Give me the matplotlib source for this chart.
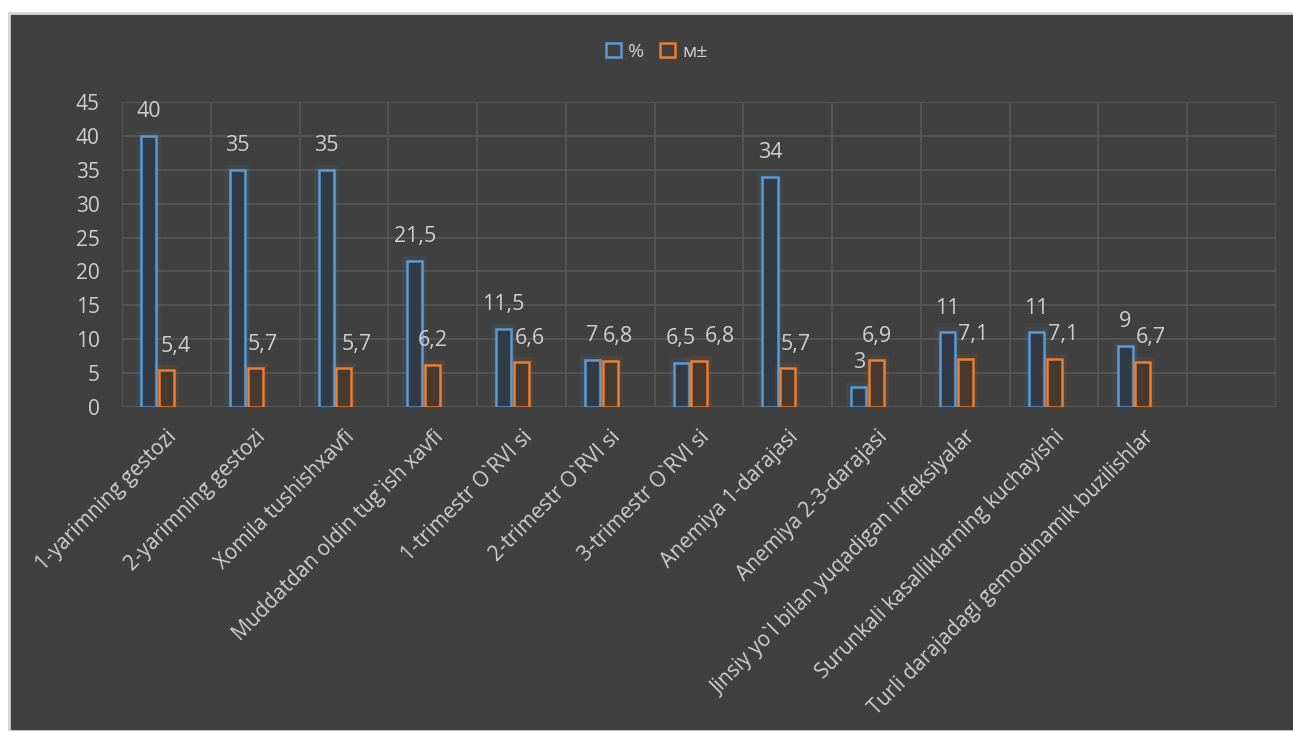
import matplotlib.pyplot as plt
import matplotlib.patheffects as pe
from matplotlib.patches import Patch, Rectangle
import numpy as np

# chart data
categories = [
    "1-yarimning gestozi",
    "2-yarimning gestozi",
    "Xomila tushishxavfi",
    "Muddatdan oldin tug`ish xavfi",
    "1-trimestr O`RVI si",
    "2-trimestr O`RVI si",
    "3-trimestr O`RVI si",
    "Anemiya 1-darajasi",
    "Anemiya 2-3-darajasi",
    "Jinsiy yo`l bilan yuqadigan infeksiyalar",
    "Surunkali kasalliklarning kuchayishi",
    "Turli darajadagi gemodinamik buzilishlar",
    "",
]
percent = [40, 35, 35, 21.5, 11.5, 7, 6.5, 34, 3, 11, 11, 9]
m_pm = [5.4, 5.7, 5.7, 6.2, 6.6, 6.8, 6.8, 5.7, 6.9, 7.1, 7.1, 6.7]
series_names = ["%", "м±"]

# sideways nudge of the м± value labels, in category units
m_label_shift = [0.1, 0.09, 0.15, 0.0, 0.09, 0.09, 0.24, 0.09, 0.0, 0.09, 0.1, 0.09]

BG = "#404040"
GRID = "#575757"
TEXT = "#cfcfcf"
BLUE = "#5B9BD5"
ORANGE = "#ED7D31"

plt.rcParams["font.family"] = ["Open Sans", "DejaVu Sans"]

fig = plt.figure(figsize=(12.93, 7.31), dpi=100)
fig.patch.set_facecolor("white")
# dark chart panel with a light frame on the top and left
fig.patches.append(Rectangle((9 / 1293, 0), 1, 1 - 13 / 731, transform=fig.transFigure,
                             facecolor=BG, edgecolor="#d4d4d4", linewidth=2, zorder=-5))

ax = fig.add_axes([122 / 1293, 1 - 407 / 731, (1276 - 122) / 1293, (407 - 102) / 731])
ax.set_facecolor(BG)

def fmt(v):
    return ("%g" % v).replace(".", ",")

pos = np.arange(len(percent))
w = 0.17
glow_b = [pe.Stroke(linewidth=7, foreground=BLUE, alpha=0.08), pe.Normal()]
glow_o = [pe.Stroke(linewidth=7, foreground=ORANGE, alpha=0.08), pe.Normal()]
bars_b = ax.bar(pos - 0.2, percent, width=w, facecolor="#323a45", edgecolor=BLUE,
                linewidth=1.8, zorder=3)
bars_o = ax.bar(pos, m_pm, width=w, facecolor="#46392f", edgecolor=ORANGE,
                linewidth=1.8, zorder=3)
for b in bars_b:
    b.set_path_effects(glow_b)
for b in bars_o:
    b.set_path_effects(glow_o)

# value labels above each bar
for xi, v in zip(pos, percent):
    ax.text(xi - 0.2, v + 3.6, fmt(v), ha="center", va="center", color=TEXT, fontsize=15.5)
for xi, v, dx in zip(pos, m_pm, m_label_shift):
    ax.text(xi + dx, v + 3.55, fmt(v), ha="center", va="center", color=TEXT, fontsize=15.5)

ax.set_xlim(-0.5, len(categories) - 0.5)
ax.set_ylim(0, 45)
ax.set_yticks(range(0, 46, 5))
ax.set_xticks(np.arange(len(categories)))
ax.set_xticks(np.arange(len(categories) + 1) - 0.5, minor=True)
ax.set_xticklabels(categories, rotation=45, ha="right", rotation_mode="anchor",
                   color=TEXT, fontsize=15)
ax.tick_params(axis="x", which="both", length=0, pad=14)
ax.tick_params(axis="y", length=0, pad=16, labelcolor=TEXT, labelsize=15)
ax.grid(axis="y", color=GRID, linewidth=1.2, zorder=0)
ax.grid(axis="x", which="minor", color=GRID, linewidth=1.2, zorder=0)
ax.set_axisbelow(True)
for s in ax.spines.values():
    s.set_visible(False)

handles = [Patch(facecolor=BG, edgecolor=BLUE, linewidth=1.8),
           Patch(facecolor=BG, edgecolor=ORANGE, linewidth=1.8)]
fig.legend(handles, series_names, loc="center", bbox_to_anchor=(657 / 1293, 1 - 52 / 731),
           ncol=2, frameon=False, fontsize=14, labelcolor=TEXT, handlelength=0.75,
           handleheight=0.75, handletextpad=0.4, columnspacing=0.8)

fig.savefig("out.png", dpi=100, facecolor=fig.get_facecolor())
